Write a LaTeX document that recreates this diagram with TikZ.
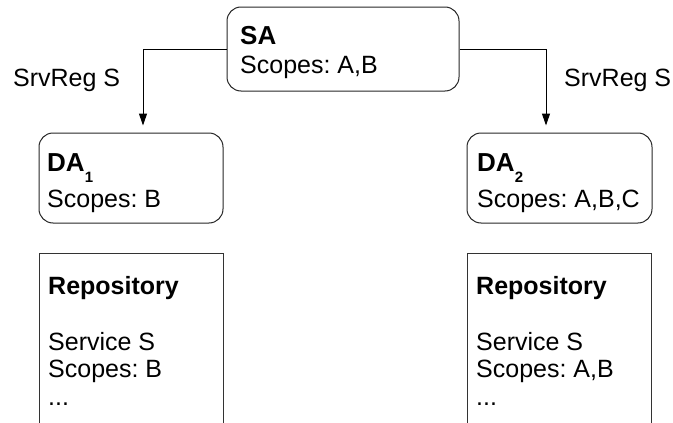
\documentclass[tikz,border=0pt]{standalone}
\usepackage{fontspec}
\setmainfont{Liberation Sans}
\usetikzlibrary{arrows.meta}
\frenchspacing

\begin{document}
\begin{tikzpicture}[x=1pt,y=-1pt,
  txt/.style={anchor=base west,inner sep=0pt,font=\fontsize{25}{30}\selectfont},
  head/.style={anchor=base west,inner sep=0pt,font=\fontsize{26}{30}\selectfont\bfseries},
  agent/.style={draw=black!85,line width=1pt,rounded corners=14pt,inner sep=0pt},
  repo/.style={draw=black!80,line width=1pt,inner sep=0pt},
  conn/.style={draw=black,line width=1pt,-{Triangle[length=12pt,width=8pt]},shorten >=7pt}]
  \useasboundingbox (0,0) rectangle (673,423);
  \clip (0,0) rectangle (673,423);

  % service agent
  \node[agent,minimum width=232pt,minimum height=84pt] (sa) at (343,49) {};
  \node[head] (satitle) at (240,45) {SA};
  \node[txt] (sascopes) at (240,73) {Scopes: A,B};

  % directory agents
  \node[agent,minimum width=184pt,minimum height=90pt] (da1) at (131,178) {};
  \node[head] (da1title) at (47,171) {DA\raisebox{-11pt}{\fontsize{15}{15}\selectfont\bfseries 1}};
  \node[txt] (da1scopes) at (47,207) {Scopes: B};

  \node[agent,minimum width=185pt,minimum height=90pt] (da2) at (559.5,178) {};
  \node[head] (da2title) at (477,171) {DA\raisebox{-11pt}{\fontsize{15}{15}\selectfont\bfseries 2}};
  \node[txt] (da2scopes) at (477,207) {Scopes: A,B,C};

  % repositories (open at the bottom)
  \node[repo,minimum width=184pt,minimum height=220pt] (repo1) at (131,363) {};
  \node[head,font=\fontsize{25}{30}\selectfont\bfseries] (repo1title) at (48,294) {Repository};
  \node[txt] (repo1svc) at (48,350) {Service S};
  \node[txt] (repo1scopes) at (48,377) {Scopes: B};
  \node[txt] (repo1more) at (48,405) {...};

  \node[repo,minimum width=184pt,minimum height=220pt] (repo2) at (559,363) {};
  \node[head,font=\fontsize{25}{30}\selectfont\bfseries] (repo2title) at (476,294) {Repository};
  \node[txt] (repo2svc) at (476,350) {Service S};
  \node[txt] (repo2scopes) at (476,377) {Scopes: A,B};
  \node[txt] (repo2more) at (476,405) {...};

  % registrations
  \draw[conn] (sa.west) -| ([xshift=12pt]da1.north);
  \draw[conn] (sa.east) -| ([xshift=-13.5pt]da2.north);
  \node[txt] (reg1) at (13,86) {SrvReg S};
  \node[txt] (reg2) at (564,86) {SrvReg S};
\end{tikzpicture}
\end{document}
